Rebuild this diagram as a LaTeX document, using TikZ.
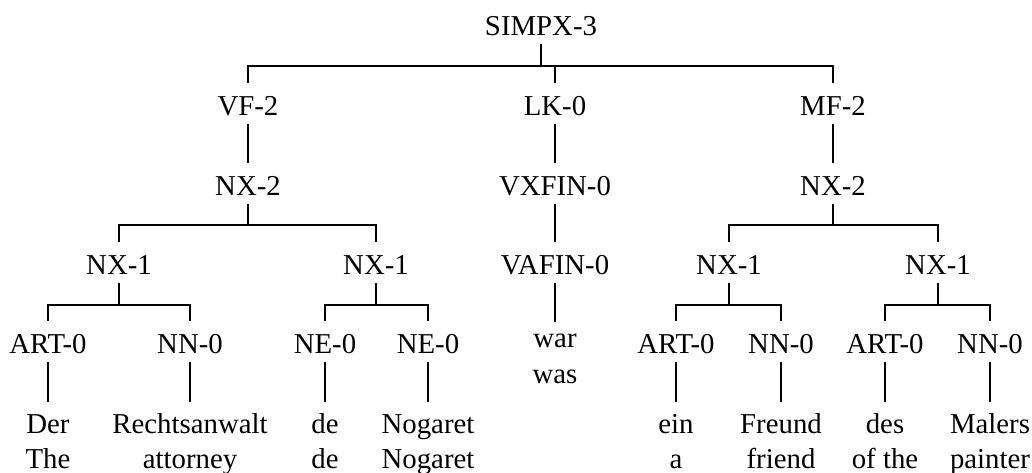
\documentclass[tikz,border=0pt]{standalone}
\usepackage{fontspec}
\setmainfont{Liberation Serif}
\begin{document}
\begin{tikzpicture}[x=0.5pt,y=-0.5pt,
  every node/.style={font=\fontsize{14.4pt}{17.5pt}\selectfont, inner sep=0pt},
  lbl/.style={anchor=base, text height=16pt, text depth=4.5pt},
  wd/.style={anchor=base, text height=15.5pt, text depth=4.5pt},
  wdlow/.style={anchor=base, text height=12.5pt, text depth=4.5pt},
  gl/.style={anchor=base},
  edge/.style={line width=0.6pt, black}]
\useasboundingbox (0,0) rectangle (1032,472);
% bracket levels
\coordinate (b0) at (0,66);
\coordinate (b1) at (0,225);
\coordinate (b2) at (0,305);
% row 1
\node[lbl] (s) at (541,35) {SIMPX-3};
% row 2
\node[lbl] (vf) at (248,115) {VF-2};
\node[lbl] (lk) at (555,115) {LK-0};
\node[lbl] (mf) at (833,115) {MF-2};
% row 3
\node[lbl] (nxa) at (248,195) {NX-2};
\node[lbl] (vx) at (555,195) {VXFIN-0};
\node[lbl] (nxb) at (833,195) {NX-2};
% row 4
\node[lbl] (n1) at (119,274) {NX-1};
\node[lbl] (n2) at (376,274) {NX-1};
\node[lbl] (va) at (555,274) {VAFIN-0};
\node[lbl] (n3) at (729,274) {NX-1};
\node[lbl] (n4) at (938,274) {NX-1};
% row 5
\node[lbl] (p1) at (48,353) {ART-0};
\node[lbl] (p2) at (190,353) {NN-0};
\node[lbl] (p3) at (325,353) {NE-0};
\node[lbl] (p4) at (428,353) {NE-0};
\node[wdlow] (war) at (555,347) {war};
\node[gl] (was) at (555,383) {was};
\node[lbl] (p6) at (676,353) {ART-0};
\node[lbl] (p7) at (781,353) {NN-0};
\node[lbl] (p8) at (885,353) {ART-0};
\node[lbl] (p9) at (990,353) {NN-0};
% words
\node[wd] (w1) at (48,433) {Der};
\node[wd] (w2) at (190,433) {Rechtsanwalt};
\node[wd] (w3) at (325,433) {de};
\node[wd] (w4) at (428,433) {Nogaret};
\node[wd] (w6) at (676,433) {ein};
\node[wd] (w7) at (781,433) {Freund};
\node[wd] (w8) at (885,433) {des};
\node[wd] (w9) at (990,433) {Malers};
% glosses
\node[gl] (g1) at (48,468) {The};
\node[gl] (g2) at (190,468) {attorney};
\node[gl] (g3) at (325,468) {de};
\node[gl] (g4) at (428,468) {Nogaret};
\node[gl] (g6) at (676,468) {a};
\node[gl] (g7) at (781,468) {friend};
\node[gl] (g8) at (885,468) {of the};
\node[gl] (g9) at (990,468) {painter};
% connectors
\draw[edge] (s.south) -- (s.south |- b0);
\draw[edge] (vf.north) |- (mf.north |- b0) -- (mf.north);
\draw[edge] (lk.north) -- (lk.north |- b0);
\draw[edge] (vf.south) -- (nxa.north);
\draw[edge] (lk.south) -- (vx.north);
\draw[edge] (mf.south) -- (nxb.north);
\draw[edge] (nxa.south) -- (nxa.south |- b1);
\draw[edge] (n1.north) |- (n2.north |- b1) -- (n2.north);
\draw[edge] (vx.south) -- (va.north);
\draw[edge] (nxb.south) -- (nxb.south |- b1);
\draw[edge] (n3.north) |- (n4.north |- b1) -- (n4.north);
\draw[edge] (n1.south) -- (n1.south |- b2);
\draw[edge] (p1.north) |- (p2.north |- b2) -- (p2.north);
\draw[edge] (n2.south) -- (n2.south |- b2);
\draw[edge] (p3.north) |- (p4.north |- b2) -- (p4.north);
\draw[edge] (va.south) -- (war.north);
\draw[edge] (n3.south) -- (n3.south |- b2);
\draw[edge] (p6.north) |- (p7.north |- b2) -- (p7.north);
\draw[edge] (n4.south) -- (n4.south |- b2);
\draw[edge] (p8.north) |- (p9.north |- b2) -- (p9.north);
\draw[edge] (p1.south) -- (w1.north);
\draw[edge] (p2.south) -- (w2.north);
\draw[edge] (p3.south) -- (w3.north);
\draw[edge] (p4.south) -- (w4.north);
\draw[edge] (p6.south) -- (w6.north);
\draw[edge] (p7.south) -- (w7.north);
\draw[edge] (p8.south) -- (w8.north);
\draw[edge] (p9.south) -- (w9.north);
\end{tikzpicture}
\end{document}
